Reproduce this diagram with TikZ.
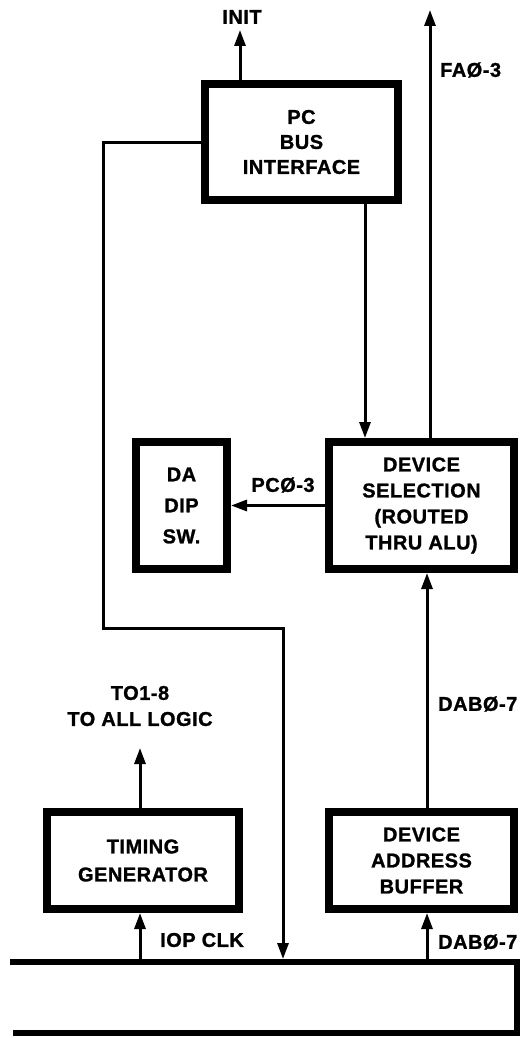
\documentclass[tikz,border=0pt]{standalone}
\usepackage{fontspec}
\setmainfont{Liberation Sans}
\newfontfamily\dfont[LetterSpace=2.5, BoldFeatures={FakeBold=1.2}]{Liberation Sans}
\usetikzlibrary{arrows.meta}
\begin{document}
\begin{tikzpicture}[x=1pt,y=-1pt,
  txt/.style={font=\dfont\bfseries\fontsize{20}{26}\selectfont, inner sep=0pt, align=center},
  blk/.style={txt, draw, line width=8pt, miter limit=10},
  conn/.style={line width=3pt},
  arr/.style={conn, -{Triangle[length=16pt,width=11pt]}},
  bus/.style={line width=6pt, line join=miter}
]
\useasboundingbox (0,0) rectangle (529,1038);

% blocks
\node[blk, minimum width=193pt, minimum height=116pt, font=\dfont\bfseries\fontsize{20}{25}\selectfont] (pc) at (301.5,142) {PC\\BUS\\INTERFACE};
\node[blk, minimum width=91pt, minimum height=127pt, font=\dfont\bfseries\fontsize{20}{31}\selectfont] (da) at (181.5,505.5) {DA\\DIP\\SW.};
\node[blk, minimum width=185pt, minimum height=127pt] (ds) at (421.5,505.5) {DEVICE\\SELECTION\\(ROUTED\\THRU ALU)};
\node[blk, minimum width=192pt, minimum height=97pt, font=\dfont\bfseries\fontsize{20}{28}\selectfont] (tg) at (143,860.5) {TIMING\\GENERATOR};
\node[blk, minimum width=185pt, minimum height=97pt] (dab) at (421.5,860.5) {DEVICE\\ADDRESS\\BUFFER};

% bus
\draw[bus] (10,962) -- (517,962) -- (517,1033) -- (13,1033);
\coordinate (busA) at (140,959);
\coordinate (busB) at (283,959);
\coordinate (busC) at (427,959);

% free ends
\coordinate (initEnd) at (240,30);
\coordinate (faEnd) at (430,10);
\coordinate (toEnd) at (140,748);
\coordinate (l1) at (103,142);
\coordinate (l2) at (103,628);
\coordinate (l3) at (283,628);

% connectors
\draw[arr] (pc.north -| initEnd) -- (initEnd);
\draw[arr] (ds.north -| faEnd) -- (faEnd);
\draw[arr] (pc.south -| 365,0) -- (ds.north -| 365,0);
\draw[arr] (pc.west) -- (l1) -- (l2) -- (l3) -- (busB);
\draw[arr] (ds.west) -- (da.east);
\draw[arr] (dab.north -| busC) -- (ds.south -| busC);
\draw[arr] (tg.north -| toEnd) -- (toEnd);
\draw[arr] (busA) -- (tg.south -| busA);
\draw[arr] (busC) -- (dab.south -| busC);

% labels
\node[txt] (linit) at (242,17) {INIT};
\node[txt, anchor=west] (lfa) at (440,70) {FAØ-3};
\node[txt] (lpc) at (283,485) {PCØ-3};
\node[txt] (lto) at (140,706) {TO1-8\\TO ALL LOGIC};
\node[txt, anchor=west] (ldab1) at (438,704) {DABØ-7};
\node[txt, anchor=west] (liop) at (160,940) {IOP CLK};
\node[txt, anchor=west] (ldab2) at (438,942) {DABØ-7};
\end{tikzpicture}
\end{document}
